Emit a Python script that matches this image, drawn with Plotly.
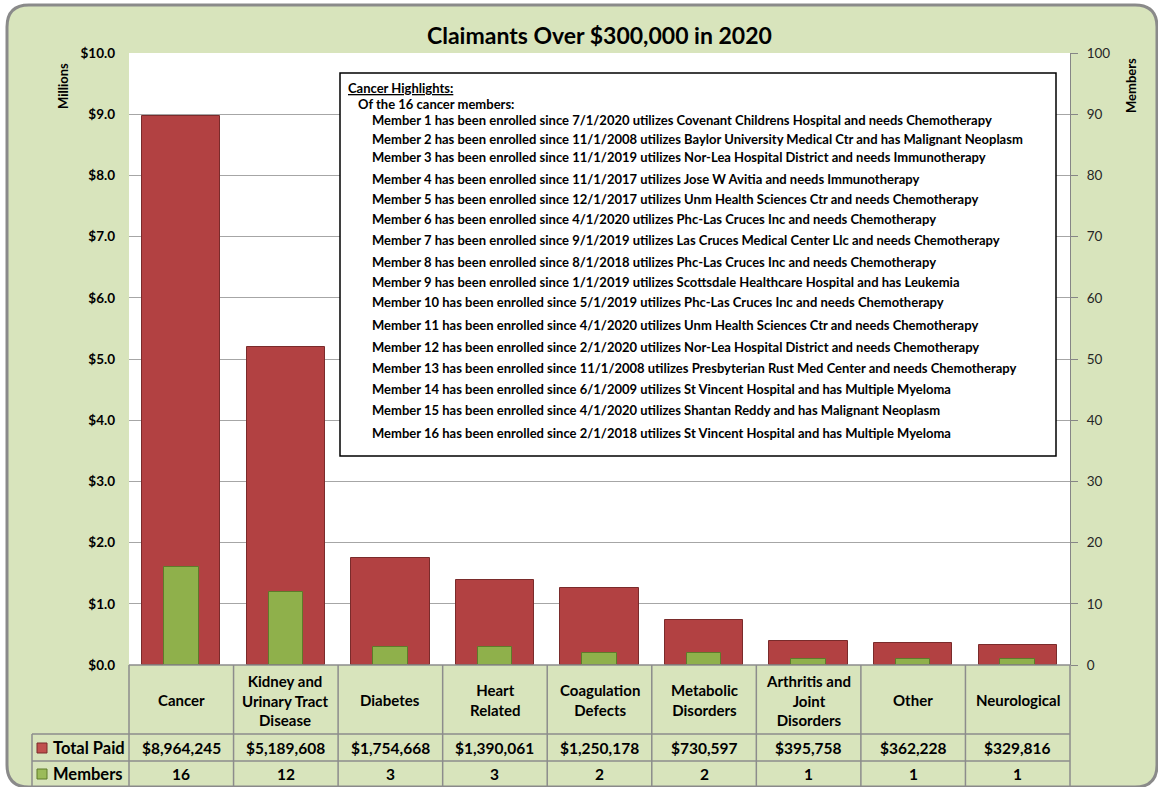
import plotly.graph_objects as go

# ---------------- data ----------------
categories = ["Cancer", "Kidney and Urinary Tract Disease", "Diabetes", "Heart Related",
              "Coagulation Defects", "Metabolic Disorders", "Arthritis and Joint Disorders",
              "Other", "Neurological"]
category_labels = ["Cancer", "Kidney and<br>Urinary Tract<br>Disease", "Diabetes", "Heart<br>Related",
                   "Coagulation<br>Defects", "Metabolic<br>Disorders", "Arthritis and<br>Joint<br>Disorders",
                   "Other", "Neurological"]
total_paid = [8964245, 5189608, 1754668, 1390061, 1250178, 730597, 395758, 362228, 329816]
members = [16, 12, 3, 3, 2, 2, 1, 1, 1]

left_tick_vals = [0, 1e6, 2e6, 3e6, 4e6, 5e6, 6e6, 7e6, 8e6, 9e6, 10e6]
left_tick_text = ["$0.0", "$1.0", "$2.0", "$3.0", "$4.0", "$5.0", "$6.0", "$7.0", "$8.0", "$9.0", "$10.0"]
right_tick_vals = [0, 10, 20, 30, 40, 50, 60, 70, 80, 90, 100]

cancer_members = 16
enroll_dates = ["7/1/2020", "11/1/2008", "11/1/2019", "11/1/2017", "12/1/2017", "4/1/2020",
                "9/1/2019", "8/1/2018", "1/1/2019", "5/1/2019", "4/1/2020", "2/1/2020",
                "11/1/2008", "6/1/2009", "4/1/2020", "2/1/2018"]
providers = ["Covenant Childrens Hospital", "Baylor University Medical Ctr", "Nor-Lea Hospital District",
             "Jose W Avitia", "Unm Health Sciences Ctr", "Phc-Las Cruces Inc",
             "Las Cruces Medical Center Llc", "Phc-Las Cruces Inc", "Scottsdale Healthcare Hospital",
             "Phc-Las Cruces Inc", "Unm Health Sciences Ctr", "Nor-Lea Hospital District",
             "Presbyterian Rust Med Center", "St Vincent Hospital", "Shantan Reddy", "St Vincent Hospital"]
conditions = ["needs Chemotherapy", "has Malignant Neoplasm", "needs Immunotherapy", "needs Immunotherapy",
              "needs Chemotherapy", "needs Chemotherapy", "needs Chemotherapy", "needs Chemotherapy",
              "has Leukemia", "needs Chemotherapy", "needs Chemotherapy", "needs Chemotherapy",
              "needs Chemotherapy", "has Multiple Myeloma", "has Malignant Neoplasm", "has Multiple Myeloma"]

# ---------------- layout geometry (pixels) ----------------
W, H = 1158, 787
PL, PR, PT, PB = 129, 1070, 53, 665   # plot area


def px(x):
    return (x - PL) / (PR - PL)


def py(y):
    return (PB - y) / (PB - PT)


FONT = "Lato"
GRID = "#a6a6a6"
TBL = "#8c8c8c"
BG = "#d8e4bc"

fig = go.Figure()
fig.add_trace(go.Bar(
    x=categories, y=total_paid, name="Total Paid", width=0.75, yaxis="y",
    marker=dict(color="#b24142", line=dict(color="#7a2b2b", width=1)),
    hovertemplate="%{x}: $%{y:,.0f}<extra></extra>"))
fig.add_trace(go.Bar(
    x=categories, y=members, name="Members", width=0.33, yaxis="y2",
    marker=dict(color="#8fb04b", line=dict(color="#5e7a2a", width=1)),
    hovertemplate="%{x}: %{y}<extra></extra>"))

shapes = []

# rounded green frame
L, T, R, B, r = 7, 5, 1157, 787, 22


def P(x, y):
    return f"{px(x):.5f},{py(y):.5f}"


path = (f"M {P(L, T + r)} L {P(L, B - r)} Q {P(L, B)} {P(L + r, B)} "
        f"L {P(R - r, B)} Q {P(R, B)} {P(R, B - r)} L {P(R, T + r)} "
        f"Q {P(R, T)} {P(R - r, T)} L {P(L + r, T)} Q {P(L, T)} {P(L, T + r)} Z")
shapes.append(dict(type="path", xref="paper", yref="paper", path=path, fillcolor=BG,
                   line=dict(color="#8a8a8a", width=3), layer="below"))
# white plot area
shapes.append(dict(type="rect", xref="paper", yref="paper", x0=0, x1=1, y0=0, y1=1,
                   fillcolor="white", line=dict(width=0), layer="below"))

# data table lines
n = len(categories)
colw = (PR - PL) / n
for yy, x0 in [(PB, PL), (734, 32), (761, 32)]:
    shapes.append(dict(type="line", xref="paper", yref="paper", x0=px(x0), x1=px(PR),
                       y0=py(yy), y1=py(yy), line=dict(color=TBL, width=1.5)))
for k in range(n + 1):
    xx = PL + k * colw
    shapes.append(dict(type="line", xref="paper", yref="paper", x0=px(xx), x1=px(xx),
                       y0=py(PB), y1=py(790), line=dict(color=TBL, width=1.5)))
shapes.append(dict(type="line", xref="paper", yref="paper", x0=px(32), x1=px(32),
                   y0=py(734), y1=py(790), line=dict(color=TBL, width=1.5)))
# legend keys
shapes.append(dict(type="rect", xref="paper", yref="paper", x0=px(37), x1=px(47),
                   y0=py(753), y1=py(743), fillcolor="#c0504d", line=dict(color="#7a2b2b", width=1)))
shapes.append(dict(type="rect", xref="paper", yref="paper", x0=px(37), x1=px(47),
                   y0=py(779), y1=py(769), fillcolor="#9bbb59", line=dict(color="#5e7a2a", width=1)))

# highlights box
shapes.append(dict(type="rect", xref="paper", yref="paper", x0=px(340), x1=px(1056),
                   y0=py(456), y1=py(73), fillcolor="white", line=dict(color="black", width=1.5),
                   layer="above"))

ann = []
ann.append(dict(text="<b>Claimants Over $300,000 in 2020</b>", xref="paper", yref="paper",
                x=px(599), y=py(35), xanchor="center", yanchor="middle", showarrow=False,
                font=dict(size=23, family=FONT, color="black")))
ann.append(dict(text="<b>Millions</b>", xref="paper", yref="paper", x=px(63), y=py(86),
                xanchor="center", yanchor="middle", textangle=-90, showarrow=False,
                font=dict(size=13, family=FONT, color="black")))
ann.append(dict(text="<b>Members</b>", xref="paper", yref="paper", x=px(1131), y=py(86),
                xanchor="center", yanchor="middle", textangle=-90, showarrow=False,
                font=dict(size=13, family=FONT, color="black")))

for cat, lab, tp, m in zip(categories, category_labels, total_paid, members):
    ann.append(dict(text=f"<b>{lab}</b>", x=cat, xref="x", yref="paper", y=py(700),
                    xanchor="center", yanchor="middle", showarrow=False,
                    font=dict(size=15, family=FONT, color="black")))
    ann.append(dict(text=f"<b>${tp:,.0f}</b>", x=cat, xref="x", yref="paper", y=py(748),
                    xanchor="center", yanchor="middle", showarrow=False,
                    font=dict(size=15.5, family=FONT, color="black")))
    ann.append(dict(text=f"<b>{m}</b>", x=cat, xref="x", yref="paper", y=py(774),
                    xanchor="center", yanchor="middle", showarrow=False,
                    font=dict(size=15.5, family=FONT, color="black")))
ann.append(dict(text="<b>Total Paid</b>", xref="paper", yref="paper", x=px(51), y=py(748),
                xanchor="left", yanchor="middle", showarrow=False,
                font=dict(size=16.5, family=FONT, color="black")))
ann.append(dict(text="<b>Members</b>", xref="paper", yref="paper", x=px(51), y=py(774),
                xanchor="left", yanchor="middle", showarrow=False,
                font=dict(size=16.5, family=FONT, color="black")))

# highlights text
TS = 13
ann.append(dict(text="<b>Cancer Highlights:</b>", xref="paper", yref="paper", x=px(346), y=py(88),
                xanchor="left", yanchor="middle", showarrow=False,
                font=dict(size=TS, family=FONT, color="black", lineposition="under")))
ann.append(dict(text=f"<b>Of the {cancer_members} cancer members:</b>", xref="paper", yref="paper",
                x=px(356), y=py(104), xanchor="left", yanchor="middle", showarrow=False,
                font=dict(size=TS, family=FONT, color="black")))
line_y = [120, 139, 157, 179, 199, 219, 240, 262, 282, 302, 325, 347, 368, 389, 410, 433]
for i, (d, p, c) in enumerate(zip(enroll_dates, providers, conditions)):
    ann.append(dict(text=f"<b>Member {i + 1} has been enrolled since {d} utilizes {p} and {c}</b>",
                    xref="paper", yref="paper", x=px(370), y=py(line_y[i]), xanchor="left",
                    yanchor="middle", showarrow=False, font=dict(size=TS, family=FONT, color="black")))

fig.update_layout(
    width=W, height=H, autosize=False,
    margin=dict(l=PL, r=W - PR, t=PT, b=H - PB, pad=0),
    paper_bgcolor="white", plot_bgcolor="rgba(0,0,0,0)",
    barmode="overlay", showlegend=False, bargap=0,
    font=dict(family=FONT, color="black"),
    xaxis=dict(type="category", range=[-0.5, n - 0.5], showticklabels=False, showgrid=False,
               zeroline=False, showline=False, ticks=""),
    yaxis=dict(range=[0, 10e6], tickvals=left_tick_vals, ticktext=left_tick_text,
               tickfont=dict(size=13.5, family=FONT, color="black", weight="bold"),
               showgrid=True, gridcolor=GRID, gridwidth=1, zeroline=False, showline=False,
               ticks="", ticklabelstandoff=13),
    yaxis2=dict(range=[0, 100], overlaying="y", side="right", tickvals=right_tick_vals,
                tickfont=dict(size=13.5, family=FONT, color="#262626"),
                ticks="outside", ticklen=7, tickcolor="#868686", showline=True, linecolor="#868686",
                linewidth=1, showgrid=False, zeroline=False, ticklabelstandoff=6),
    shapes=shapes, annotations=ann,
)

fig.write_html("out.html", config={"displayModeBar": False},
               post_script="document.body.style.margin='0px';")
